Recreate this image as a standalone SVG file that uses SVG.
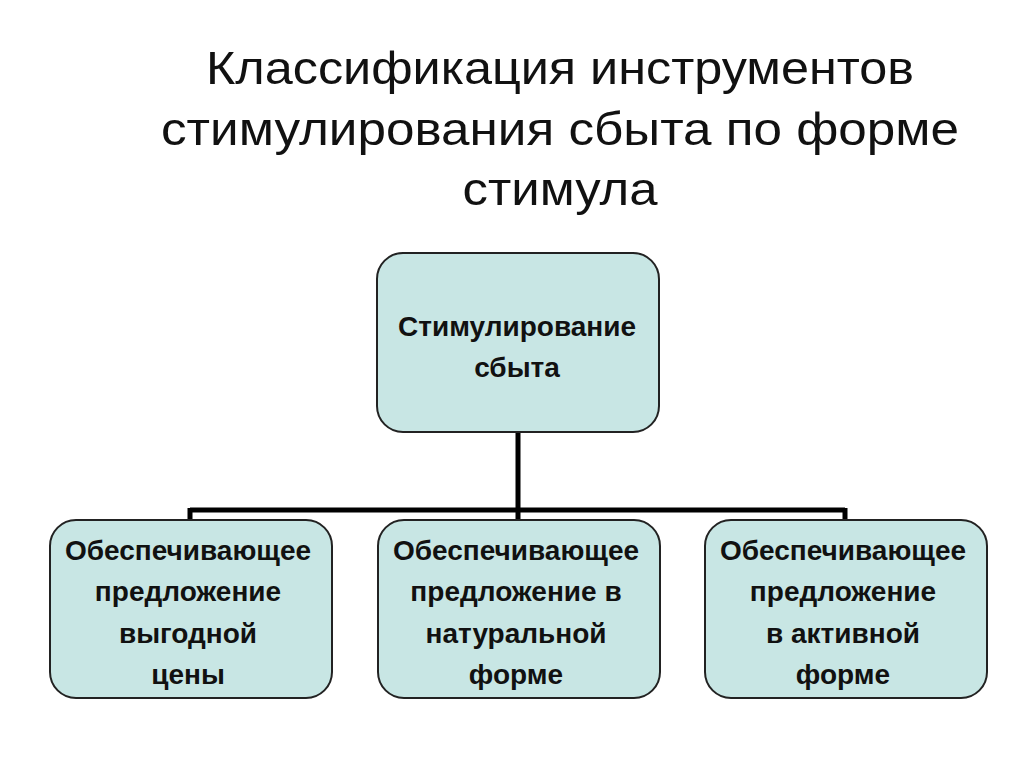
<svg xmlns="http://www.w3.org/2000/svg" width="1024" height="767" viewBox="0 0 1024 767">
<style>
.t{font-family:"Liberation Sans",Arial,sans-serif;font-size:47px;fill:#111;text-anchor:middle}
.b{fill:#c8e6e4;stroke:#222;stroke-width:2}
.l{font-family:"Liberation Sans",Arial,sans-serif;font-size:28px;font-weight:bold;fill:#111;text-anchor:middle}
.c{stroke:#000;stroke-width:5;fill:none}
</style>
<rect width="1024" height="767" fill="#fff"/>
<g id="title">
<text class="t" x="560" y="84" textLength="708" lengthAdjust="spacingAndGlyphs">Классификация инструментов</text>
<text class="t" x="560" y="145" textLength="798" lengthAdjust="spacingAndGlyphs">стимулирования сбыта по форме</text>
<text class="t" x="560" y="205" textLength="195" lengthAdjust="spacingAndGlyphs">стимула</text>
</g>
<g id="connectors">
<path class="c" d="M518,432V510M190,510H845M190,508V522M518,508V522M845,508V522"/>
</g>
<g id="root">
<rect class="b" x="377" y="253" width="282" height="179" rx="26"/>
<text class="l" x="517" y="336">Стимулирование</text>
<text class="l" x="517" y="377">сбыта</text>
</g>
<g id="n1">
<rect class="b" x="50" y="520" width="282" height="178" rx="26"/>
<text class="l" x="188" y="560">Обеспечивающее</text>
<text class="l" x="188" y="601">предложение</text>
<text class="l" x="188" y="643">выгодной</text>
<text class="l" x="188" y="684">цены</text>
</g>
<g id="n2">
<rect class="b" x="378" y="520" width="282" height="178" rx="26"/>
<text class="l" x="516" y="560">Обеспечивающее</text>
<text class="l" x="516" y="601">предложение в</text>
<text class="l" x="516" y="643">натуральной</text>
<text class="l" x="516" y="684">форме</text>
</g>
<g id="n3">
<rect class="b" x="705" y="520" width="282" height="178" rx="26"/>
<text class="l" x="843" y="560">Обеспечивающее</text>
<text class="l" x="843" y="601">предложение</text>
<text class="l" x="843" y="643">в активной</text>
<text class="l" x="843" y="684">форме</text>
</g>
</svg>
